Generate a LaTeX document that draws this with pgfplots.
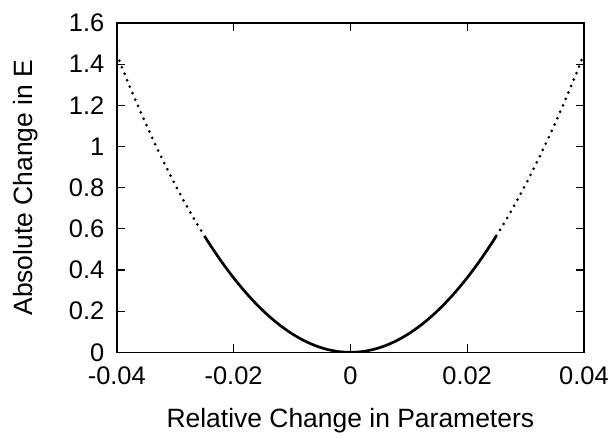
\documentclass[border=0pt]{standalone}
\usepackage{pgfplots}
\pgfplotsset{compat=1.18}
\usepackage{fontspec}
\setmainfont{Liberation Sans}
\begin{document}
\begin{tikzpicture}
\begin{axis}[
  scale only axis,
  width=468bp, height=330bp,
  xmin=-0.04, xmax=0.04, ymin=0, ymax=1.6,
  xtick={-0.04,-0.02,0,0.02,0.04},
  ytick={0,0.2,0.4,0.6,0.8,1,1.2,1.4,1.6},
  xticklabels={-0.04,-0.02,0,0.02,0.04},
  yticklabels={0,0.2,0.4,0.6,0.8,1,1.2,1.4,1.6},
  scaled x ticks=false,
  tick align=inside,
  major tick length=8bp,
  tick style={line width=1.2bp, black},
  axis line style={line width=1.6bp},
  font=\fontsize{25.5bp}{29bp}\selectfont,
  xlabel={Relative Change in Parameters},
  ylabel={Absolute Change in E},
  xticklabel style={anchor=north, yshift=-11bp},
  yticklabel style={anchor=east, xshift=-9bp},
  label style={font=\fontsize{26.5bp}{30bp}\selectfont},
  xlabel style={at={(axis description cs:0.5,-0.2273)}, anchor=base},
  ylabel style={at={(axis description cs:-0.1795,0.5)}, anchor=base, rotate=0},
  clip=true,
]
\addplot[black, line width=2.7bp, smooth, no marks] coordinates {
(-0.025,0.5656) (-0.024,0.5213) (-0.022,0.4380) (-0.020,0.3620) (-0.018,0.2932)
(-0.016,0.2317) (-0.014,0.1774) (-0.012,0.1303) (-0.010,0.0905) (-0.008,0.0579)
(-0.006,0.0326) (-0.004,0.0145) (-0.002,0.0036) (0,0)
(0.002,0.0036) (0.004,0.0145) (0.006,0.0326) (0.008,0.0579) (0.010,0.0905)
(0.012,0.1303) (0.014,0.1774) (0.016,0.2317) (0.018,0.2932) (0.020,0.3620)
(0.022,0.4380) (0.024,0.5213) (0.025,0.5656)
};
\addplot[black, line width=3bp, line cap=round, dash pattern=on 0bp off 7bp, smooth, no marks] coordinates {
(-0.040,1.4480) (-0.039,1.3765) (-0.038,1.3068) (-0.037,1.2389) (-0.036,1.1729)
(-0.035,1.1086) (-0.034,1.0462) (-0.033,0.9855) (-0.032,0.9267) (-0.031,0.8697)
(-0.030,0.8145) (-0.029,0.7611) (-0.028,0.7095) (-0.027,0.6597) (-0.026,0.6118)
(-0.025,0.5656)
};
\addplot[black, line width=3bp, line cap=round, dash pattern=on 0bp off 7bp, smooth, no marks] coordinates {
(0.025,0.5656) (0.026,0.6118) (0.027,0.6597) (0.028,0.7095) (0.029,0.7611)
(0.030,0.8145) (0.031,0.8697) (0.032,0.9267) (0.033,0.9855) (0.034,1.0462)
(0.035,1.1086) (0.036,1.1729) (0.037,1.2389) (0.038,1.3068) (0.039,1.3765)
(0.040,1.4480)
};
\end{axis}
\path[use as bounding box] ([shift={(-117bp,-79bp)}]current axis.south west) rectangle ([shift={(27bp,23bp)}]current axis.north east);
\end{tikzpicture}
\end{document}
